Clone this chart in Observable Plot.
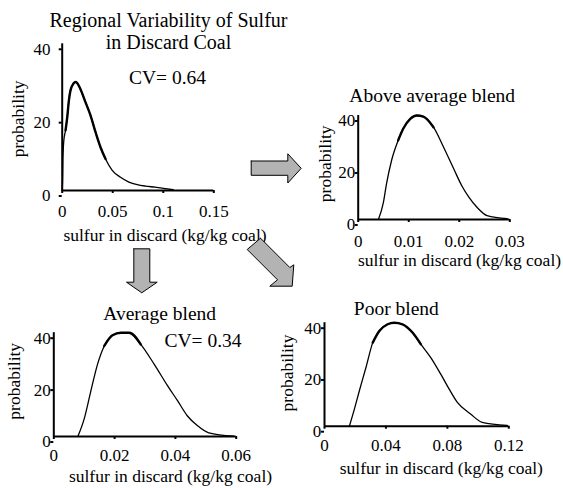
<!DOCTYPE html>
<html><head><meta charset="utf-8">
<script src="https://cdn.jsdelivr.net/npm/d3@7"></script>
<script src="https://cdn.jsdelivr.net/npm/@observablehq/plot@0.6"></script>
<style>
body{margin:0;background:#fff;}
#chart{position:relative;width:563px;height:488px;overflow:hidden;background:#fff;}
#chart svg{position:absolute;left:0;top:0;font-family:"Liberation Serif","Times New Roman",Times,serif;}
</style></head><body><div id="chart"></div>
<script>
// ---------- data ----------
const regionalX = [0, 0.0005, 0.0007, 0.0016, 0.0033, 0.005, 0.0066, 0.0082, 0.0115, 0.0132, 0.0148, 0.018, 0.023, 0.028, 0.033, 0.0379, 0.0429, 0.0495, 0.0577, 0.066, 0.0742, 0.0824, 0.092, 0.1, 0.11];
const regionalY = [0, 4, 8.2, 13.6, 16.4, 20, 24.5, 27.3, 29.3, 29.6, 29.3, 27.7, 24.1, 20.5, 15.9, 11.8, 8.6, 5.5, 3.6, 2.3, 1.6, 1.2, 0.9, 0.6, 0.2];

const aboveX = [0.004, 0.005, 0.0056, 0.0066, 0.0079, 0.0089, 0.0103, 0.0116, 0.0129, 0.0149, 0.0169, 0.0189, 0.0205, 0.0219, 0.0235, 0.0255, 0.0295];
const aboveY = [0, 6.7, 13.7, 22.7, 30.4, 34.9, 38.7, 40, 39.6, 35.5, 27.8, 19.5, 13, 8.6, 4.7, 1.5, 0.3];

const averageX = [0.0079, 0.01, 0.0122, 0.0144, 0.0166, 0.0193, 0.0221, 0.0248, 0.0286, 0.033, 0.0374, 0.0407, 0.0439, 0.0472, 0.051, 0.0592];
const averageY = [0, 6.8, 17.6, 27.9, 34.9, 39, 40, 40, 35.5, 27.9, 19.6, 13.8, 8, 4.2, 1.4, 0.1];

const poorX = [0.0162, 0.0195, 0.0227, 0.027, 0.0314, 0.0357, 0.0411, 0.0454, 0.0508, 0.0573, 0.0627, 0.0692, 0.0757, 0.0811, 0.0865, 0.0951, 0.1027, 0.119];
const poorY = [0, 6.7, 13.7, 22.7, 32.3, 36.8, 39.4, 40, 39.4, 36.2, 31.7, 26.5, 20.1, 14.4, 9.2, 4.7, 1.5, 0.3];

const regionalTicks = [0, 0.05, 0.1, 0.15];
const aboveTicks = [0, 0.01, 0.02, 0.03];
const averageTicks = [0, 0.02, 0.04, 0.06];
const poorTicks = [0, 0.04, 0.08, 0.12];
const yTicks = [0, 20, 40];

const titles = ["Regional Variability of Sulfur", "in Discard Coal", "Above average blend", "Average blend", "Poor blend"];
const cvLabels = ["CV= 0.64", "CV= 0.34"];
const xLabel = "sulfur in discard (kg/kg coal)";
const yLabel = "probability";

// ---------- layout (pixels) ----------
const W = 563, H = 488;
const FONT = '"Liberation Serif","Times New Roman",Times,serif';

const panels = [
  {xs: regionalX, ys: regionalY, domain: [0, 0.15], ticks: regionalTicks,
   frame: {l: 61.7, r: 213.3, t: 43.3, b: 190}, yPad: 8.7, xPad: 11,
   thick: d => d.x > 0.002 && d.x < 0.045,
   texts: [
     {t: titles[0], x: 168, y: 19.6, s: 20},
     {t: titles[1], x: 168, y: 41.6, s: 20},
     {t: cvLabels[0], x: 167, y: 76.8, s: 19.5},
     {t: xLabel, x: 164.5, y: 234.4, s: 17.5},
     {t: yLabel, x: 18, y: 118.4, s: 17.5, r: -90}
   ]},
  {xs: aboveX, ys: aboveY, domain: [0, 0.03], ticks: aboveTicks,
   frame: {l: 357.7, r: 509.3, t: 115, b: 219}, yPad: 0, xPad: 12,
   thick: d => d.y >= 30,
   texts: [
     {t: titles[2], x: 431.7, y: 95.5, s: 19.5},
     {t: xLabel, x: 459, y: 259.4, s: 17.5},
     {t: yLabel, x: 325, y: 163.3, s: 17.5, r: -90}
   ]},
  {xs: averageX, ys: averageY, domain: [0, 0.06], ticks: averageTicks,
   frame: {l: 53.3, r: 235.7, t: 332.2, b: 436}, yPad: 0, xPad: 9,
   thick: d => d.y >= 30,
   texts: [
     {t: titles[3], x: 159.2, y: 312.8, s: 19.5},
     {t: cvLabels[1], x: 202.5, y: 339.8, s: 19.5},
     {t: xLabel, x: 170, y: 476, s: 17.5},
     {t: yLabel, x: 13.5, y: 380.8, s: 17.5, r: -90}
   ]},
  {xs: poorX, ys: poorY, domain: [0, 0.12], ticks: poorTicks,
   frame: {l: 324, r: 508.3, t: 322.2, b: 425.7}, yPad: 0.3, xPad: 10,
   thick: d => d.y >= 30,
   texts: [
     {t: titles[4], x: 395.8, y: 307.8, s: 19.5},
     {t: xLabel, x: 440.8, y: 467.7, s: 17.5},
     {t: yLabel, x: 286.7, y: 372.5, s: 17.5, r: -90}
   ]}
];

// block arrows (decorative annotation shapes, pixel coordinates)
const arrows = [
  {id: "right", pts: [[250.7,160.5],[287.3,160.5],[287.3,153.3],[300.7,167.8],[287.3,182.5],[287.3,174.8],[250.7,174.8]]},
  {id: "down", pts: [[133.3,248.3],[149.3,248.3],[149.3,281.7],[156.7,281.7],[141.3,292.3],[126,281.7],[133.3,281.7]]},
  {id: "diag", pts: [[260,237.7],[289.3,267],[293.3,264.3],[291.7,285.7],[269.3,285.7],[277,279.3],[246.7,249]]}
];

const chart = document.getElementById("chart");

for (const p of panels) {
  const data = p.xs.map((x, i) => ({x, y: p.ys[i]}));
  const f = p.frame;
  const mL = f.l, mR = W - f.r, mT = f.t, mB = H - f.b;
  const textMarks = p.texts.map(d => Plot.text([d.t], {
    text: d => d, frameAnchor: "top-left",
    dx: d.x - mL, dy: d.y - mT,
    fontSize: d.s, fontFamily: FONT, textAnchor: "middle", lineAnchor: "middle",
    rotate: d.r || 0, fill: "black"
  }));
  const svg = Plot.plot({
    width: W, height: H,
    marginLeft: mL, marginRight: mR, marginTop: mT, marginBottom: mB,
    style: {background: "transparent", fontFamily: FONT, color: "black", overflow: "visible"},
    x: {domain: p.domain, axis: null},
    y: {domain: [0, 40], axis: null},
    marks: [
      Plot.axisX({ticks: p.ticks, tickFormat: d => String(d), tickSize: 3, tickPadding: p.xPad,
        fontSize: 17, fontFamily: FONT, strokeWidth: 2, label: null, fill: "black"}),
      Plot.axisY({ticks: yTicks, tickFormat: d => String(d), tickSize: 3, tickPadding: p.yPad,
        fontSize: 17, fontFamily: FONT, strokeWidth: 2, dy: 5.5, label: null, fill: "black"}),
      Plot.ruleX([0], {stroke: "black", strokeWidth: 2}),
      Plot.ruleY([0], {stroke: "black", strokeWidth: 2}),
      Plot.line(data, {x: "x", y: "y", stroke: "black", strokeWidth: 1.3, curve: "monotone-x"}),
      Plot.line(data.filter(p.thick), {x: "x", y: "y", stroke: "black", strokeWidth: 2.4, curve: "monotone-x"}),
      ...textMarks
    ]
  });
  chart.appendChild(svg);
}

// arrows overlay
const arrowRows = arrows.flatMap(a => [...a.pts, a.pts[0]].map(([x, y]) => ({id: a.id, x, y})));
const arrowSvg = Plot.plot({
  width: W, height: H, margin: 0,
  style: {background: "transparent", overflow: "visible"},
  x: {type: "identity", axis: null}, y: {type: "identity", axis: null},
  marks: [
    Plot.line(arrowRows, {x: "x", y: "y", z: "id", fill: "#b3b3b3", stroke: "black", strokeWidth: 1, strokeLinejoin: "miter"})
  ]
});
chart.appendChild(arrowSvg);
</script></body></html>
